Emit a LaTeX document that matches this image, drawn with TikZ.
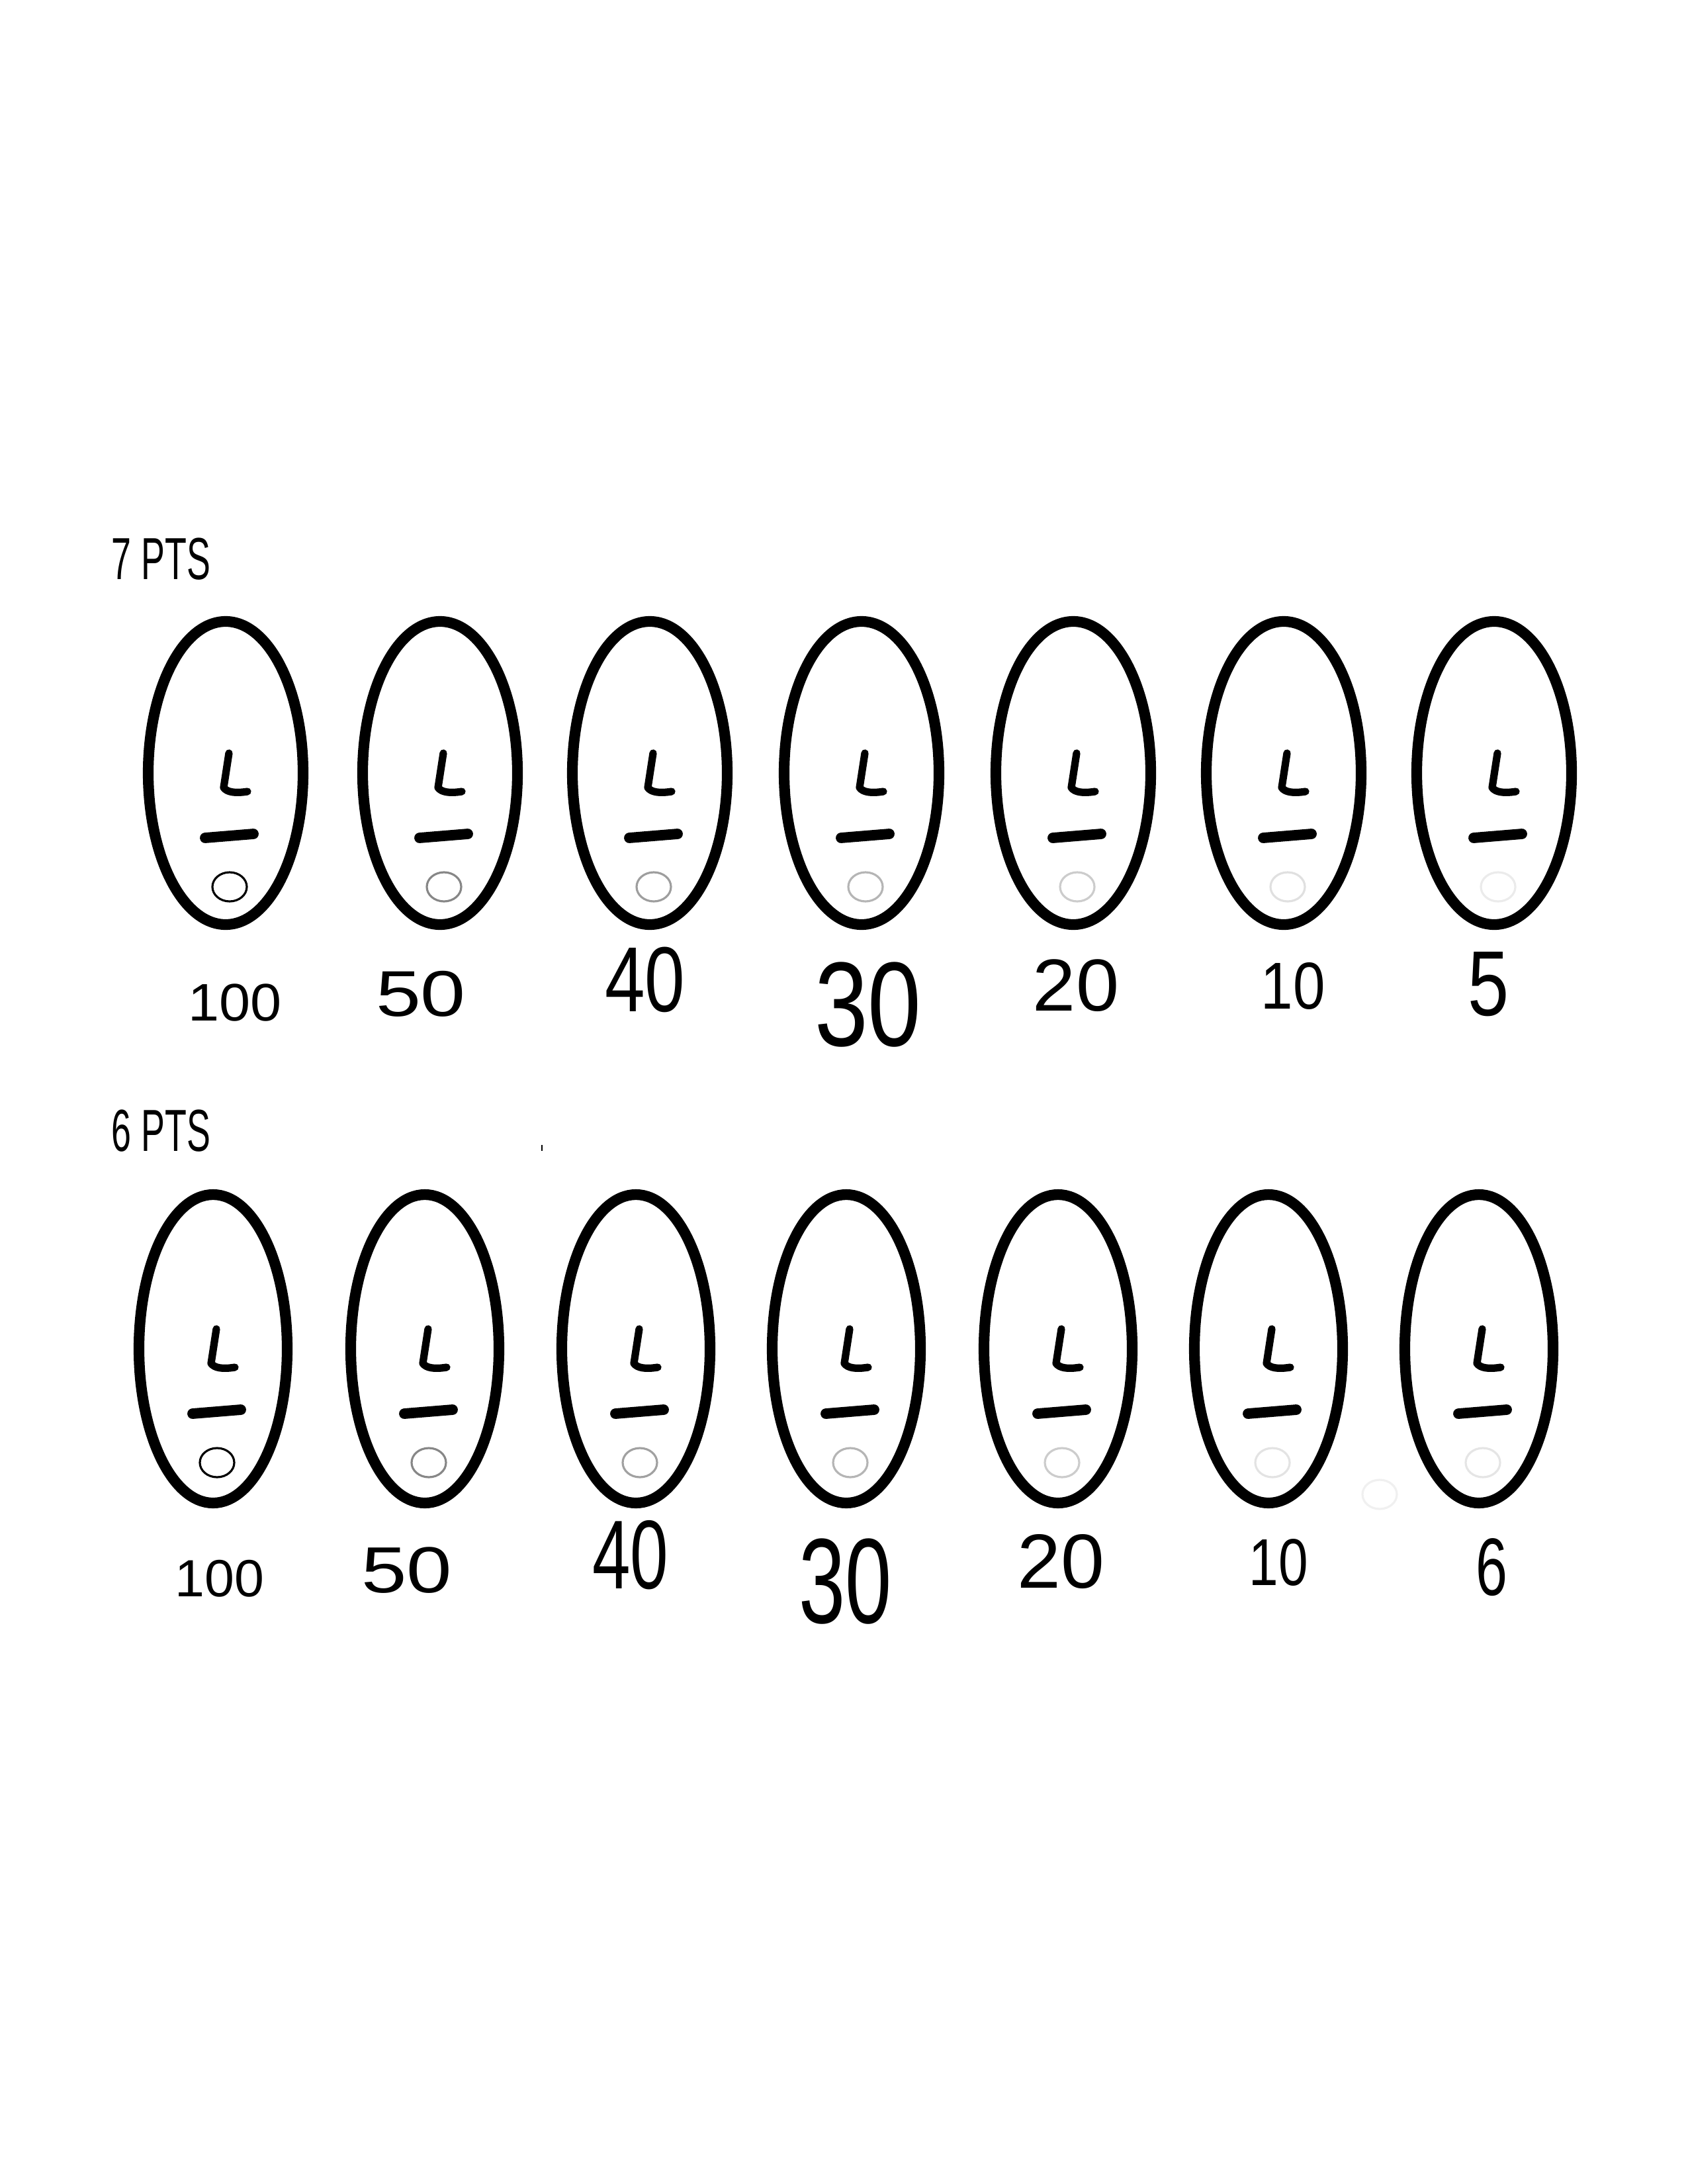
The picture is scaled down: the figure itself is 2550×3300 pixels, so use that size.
\documentclass[tikz,border=0pt]{standalone}
\usepackage{fontspec}
\newfontfamily\ptsfont[FakeStretch=0.6]{Liberation Sans}
\newfontfamily\digitfont{Liberation Sans}
\usetikzlibrary{calc}

\tikzset{
  egg/.style={line width=4.6pt},
  lstroke/.style={line width=3.2pt, line cap=round, line join=round},
  barstroke/.style={line width=4.5pt, line cap=round},
  ring/.style={line width=0.9pt},
  tally/.style={font=\ptsfont\fontsize{25.5}{30}\selectfont, anchor=base west, inner sep=0pt},
  score/.style={inner sep=0pt, anchor=center}
}

\begin{document}
\begin{tikzpicture}[x=0.01cm, y=-0.01cm]
  \useasboundingbox (0,0) rectangle (2550,3300);
  \fill[white] (0,0) rectangle (2550,3300);

  \node[tally] (pts7) at (168,875) {7 PTS};
  \node[tally] (pts6) at (168,1739) {6 PTS};
  \coordinate (speck) at (819,1730);
  \draw[line width=0.8pt] (speck) -- ++(0,9);

  % eggs: name / x / y / x radius / y radius / grey of the dot
  \foreach \n/\x/\y/\rx/\ry/\g in {a1/341/1168/117/229/100, a2/665/1168/117/229/47,
      a3/982/1168/117/229/38, a4/1302/1168/117/229/29, a5/1622/1168/117/229/20,
      a6/1940/1168/117/229/12, a7/2258/1168/117/229/8,
      b1/322/2038/112/233/100, b2/642/2038/112/233/47, b3/961/2038/112/233/37,
      b4/1279/2038/112/233/29, b5/1599/2038/112/233/20, b6/1917/2038/112/233/11,
      b7/2235/2038/112/233/10}{
    \coordinate (egg-\n) at (\x,\y);
    \begin{scope}[shift={(egg-\n)}]
      \draw[egg] (0,0) ellipse [x radius=\rx, y radius=\ry];
      \draw[lstroke] (5,-30) -- (-3,22) .. controls (2,29) and (14,31) .. (33,28);
      \draw[barstroke] (-31,98) -- (42,92);
      \draw[ring, draw=black!\g] (6,172) ellipse [x radius=26, y radius=22];
    \end{scope}
  }
  \coordinate (stray) at (2085,2258);
  \draw[ring, draw=black!6] (stray) ellipse [x radius=26, y radius=22];

  % scores: name / x / y / size / width / text
  \foreach \n/\x/\y/\s/\w/\t in {a1/355/1515/22.7/1.06/100, a2/636/1502/27.8/1.25/50,
      a3/975/1480/39.7/0.78/40, a4/1312/1518/51.6/0.8/30, a5/1626/1489/31.7/1.05/20,
      a6/1954/1490/28.5/0.87/10, a7/2250/1487/39.7/0.8/5,
      b1/332/2385/22.5/1.02/100, b2/615/2373/28/1.25/50, b3/953/2350/42/0.7/40,
      b4/1278/2390/52/0.69/30, b5/1603/2360/33/1.02/20, b6/1932/2361/28.5/0.8/10,
      b7/2254/2368/35/0.7/6}{
    \node[score] (score-\n) at (\x,\y)
      {\digitfont\fontsize{\s}{\s}\selectfont\scalebox{\w}[1]{\t}};
  }
\end{tikzpicture}
\end{document}
